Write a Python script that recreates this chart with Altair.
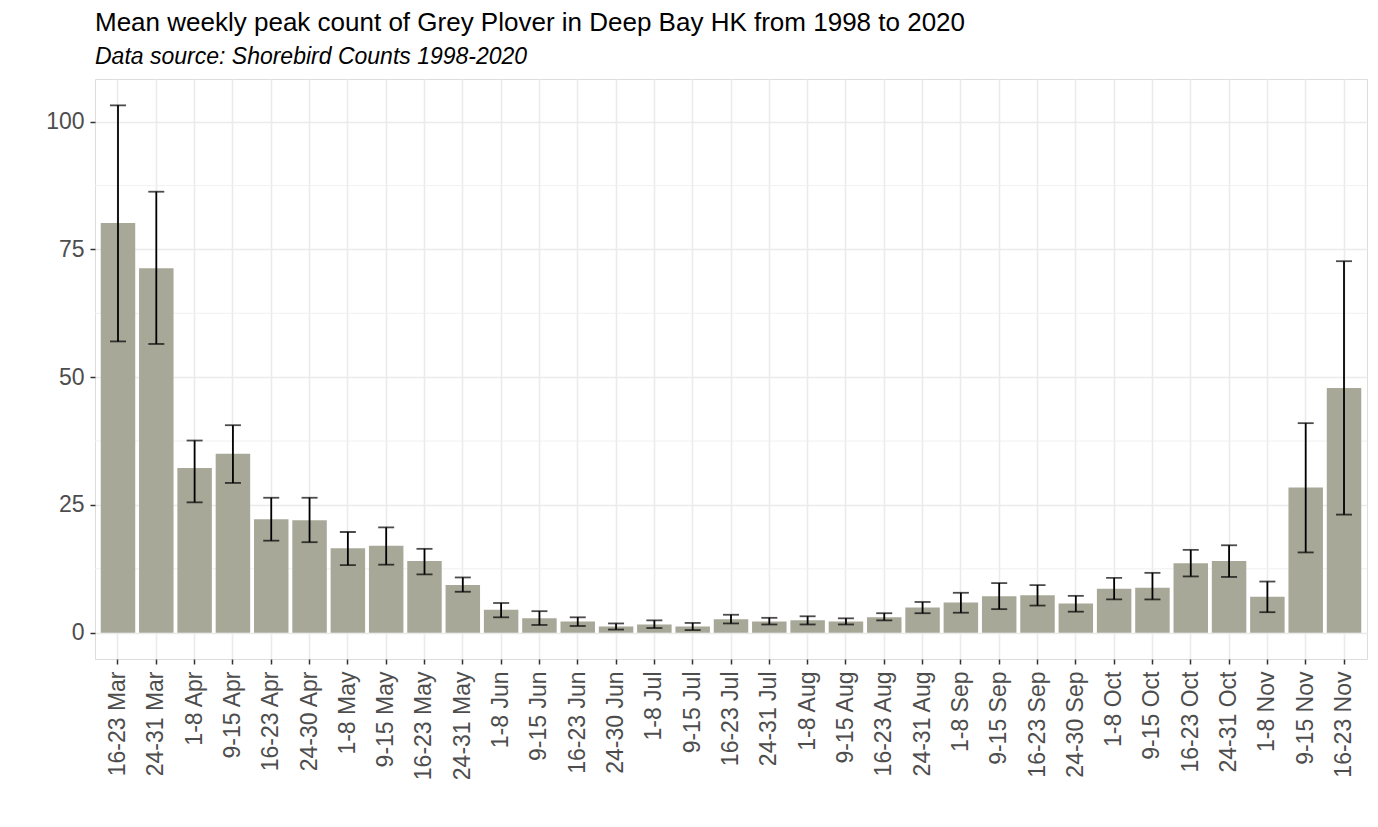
import altair as alt
import pandas as pd

weeks = ["16-23 Mar", "24-31 Mar", "1-8 Apr", "9-15 Apr", "16-23 Apr", "24-30 Apr",
         "1-8 May", "9-15 May", "16-23 May", "24-31 May", "1-8 Jun", "9-15 Jun",
         "16-23 Jun", "24-30 Jun", "1-8 Jul", "9-15 Jul", "16-23 Jul", "24-31 Jul",
         "1-8 Aug", "9-15 Aug", "16-23 Aug", "24-31 Aug", "1-8 Sep", "9-15 Sep",
         "16-23 Sep", "24-30 Sep", "1-8 Oct", "9-15 Oct", "16-23 Oct", "24-31 Oct",
         "1-8 Nov", "9-15 Nov", "16-23 Nov"]
mean_count = [80.2, 71.3, 32.2, 35.0, 22.2, 22.0, 16.5, 17.0, 14.0, 9.3, 4.5, 2.8,
              2.2, 1.2, 1.6, 1.2, 2.6, 2.2, 2.4, 2.2, 3.0, 4.9, 5.9, 7.1,
              7.3, 5.7, 8.6, 8.8, 13.6, 14.0, 7.0, 28.4, 47.9]
err_low = [57.0, 56.5, 25.5, 29.3, 18.0, 17.7, 13.2, 13.3, 11.4, 8.0, 3.0, 1.5,
           1.3, 0.6, 0.9, 0.5, 1.8, 1.6, 1.6, 1.6, 2.4, 3.8, 3.9, 4.6,
           5.3, 4.1, 6.5, 6.5, 11.0, 10.9, 4.0, 15.7, 23.1]
err_high = [103.2, 86.3, 37.6, 40.6, 26.4, 26.4, 19.7, 20.6, 16.4, 10.8, 5.8, 4.2,
            3.0, 1.8, 2.4, 1.9, 3.5, 2.9, 3.2, 2.8, 3.8, 6.0, 7.8, 9.7,
            9.3, 7.2, 10.7, 11.7, 16.2, 17.1, 10.0, 41.0, 72.7]
minor_grid = [12.5, 37.5, 62.5, 87.5]
y_ticks = [0, 25, 50, 75, 100]

df = pd.DataFrame({"week": weeks, "mean": mean_count, "lo": err_low, "hi": err_high})
grid_df = pd.DataFrame({"v": minor_grid})

FONT = "Liberation Sans"
ydom = [-5.16, 108.36]

x = alt.X("week:N", sort=weeks, title=None,
          scale=alt.Scale(paddingInner=0.1, paddingOuter=0.15),
          axis=alt.Axis(labelAngle=-90, labelFontSize=23, labelColor="#4D4D4D",
                        labelFont=FONT, tickColor="#333333", tickSize=5, tickWidth=1.5,
                        labelPadding=7, grid=True, gridColor="#EBEBEB", gridWidth=1.6,
                        bandPosition=0.5, domain=False))
yscale = alt.Scale(domain=ydom, nice=False, zero=False)
yaxis = alt.Axis(values=y_ticks, labelFontSize=23, labelColor="#4D4D4D", labelFont=FONT,
                 tickColor="#333333", tickSize=5, tickWidth=1.5, labelPadding=6,
                 grid=True, gridColor="#EBEBEB", gridWidth=1.6, domain=False)

minor = alt.Chart(grid_df).mark_rule(color="#F1F1F1", strokeWidth=1).encode(
    y=alt.Y("v:Q", scale=yscale, axis=yaxis, title=None),
    x=alt.value(0), x2=alt.value(1272)
)

bars = alt.Chart(df).mark_bar(color="#A7A898").encode(
    x=x,
    y=alt.Y("mean:Q", scale=yscale, title=None, axis=yaxis),
    y2=alt.datum(0)
)

rules = alt.Chart(df).mark_rule(color="black", strokeWidth=1.8).encode(
    x=alt.X("week:N", sort=weeks), y="lo:Q", y2="hi:Q")
cap_lo = alt.Chart(df).mark_tick(color="black", thickness=1.8, size=16).encode(
    x=alt.X("week:N", sort=weeks), y="lo:Q")
cap_hi = alt.Chart(df).mark_tick(color="black", thickness=1.8, size=16).encode(
    x=alt.X("week:N", sort=weeks), y="hi:Q")

chart = alt.layer(minor, bars, rules, cap_lo, cap_hi).properties(
    width=1272, height=580,
    autosize=alt.AutoSizeParams(type="none"),
    padding={"left": 87, "top": 71, "right": 3, "bottom": 160},
    title=alt.TitleParams(
        "Mean weekly peak count of Grey Plover in Deep Bay HK from 1998 to 2020",
        subtitle="Data source: Shorebird Counts 1998-2020",
        anchor="start", frame="group", font=FONT, fontSize=26, fontWeight="normal",
        color="black", subtitleFont=FONT, subtitleFontSize=23,
        subtitleFontStyle="italic", subtitleColor="black", subtitlePadding=10,
        offset=10)
).configure_view(stroke="#333333", strokeWidth=1.2).configure(background="white")

chart.save("out.html", embed_options={"renderer": "svg", "actions": False})
